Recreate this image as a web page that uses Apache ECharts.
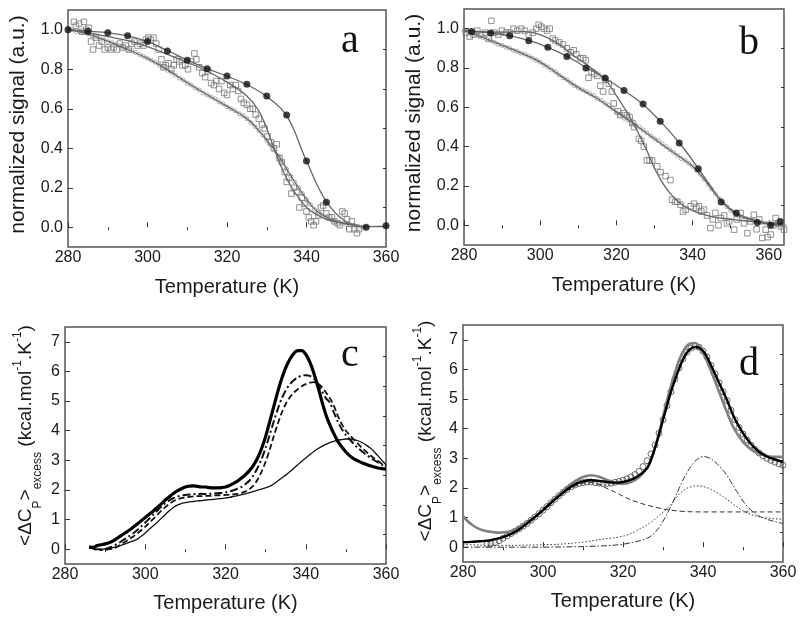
<!DOCTYPE html>
<html><head><meta charset="utf-8">
<script src="https://cdn.jsdelivr.net/npm/echarts@6/dist/echarts.min.js"></script>
<style>html,body{margin:0;padding:0;background:#fff}#c{width:800px;height:619px}</style>
</head><body><div id="c"></div>
<script>
// ---------- tick values ----------
const xMajor = [280, 300, 320, 340, 360];
const xMinor = [290, 310, 330, 350];
const yTopMajor = [0, 0.2, 0.4, 0.6, 0.8, 1.0];
const yTopMinor = [0.1, 0.3, 0.5, 0.7, 0.9];
const yBotMajor = [0, 1, 2, 3, 4, 5, 6, 7];
const yBotMinor = [0.5, 1.5, 2.5, 3.5, 4.5, 5.5, 6.5];

// ---------- panel a ----------
const aFilled = [[280,1.0],[285,0.993],[290,0.985],[295,0.969],[300,0.94],[305,0.893],[310,0.846],[315,0.803],[320,0.766],[325,0.724],[330,0.664],[335,0.568],[340,0.336],[345,0.127],[355,0.0],[360,0.008]];
const aFilledFit = [[280,1.0],[285,0.993],[290,0.985],[295,0.969],[300,0.94],[305,0.895],[310,0.847],[315,0.803],[320,0.765],[325,0.722],[330,0.662],[335,0.565],[340,0.335],[345,0.13],[350,0.028],[355,0.003],[360,0.005]];
const aSquares = [[281.5,1.04],[282,1.02],[282.8,1.03],[283.5,0.99],[284,1.04],[284.6,1.0],[285.2,1.01],[285.8,0.94],[286.3,0.9],[287,0.96],[287.8,0.92],[288.5,0.94],[289.2,0.9],[290,0.91],[290.8,0.9],[291.5,0.91],[292.3,0.9],[293,0.93],[293.8,0.91],[294.5,0.92],[295.3,0.9],[296,0.93],[296.7,0.94],[297.5,0.92],[298.2,0.93],[299,0.92],[299.6,0.95],[300.2,0.96],[300.8,0.95],[301.5,0.96],[302.2,0.93],[302.8,0.9],[303.5,0.85],[304,0.81],[304.6,0.82],[305.3,0.83],[306,0.8],[306.6,0.82],[307.3,0.85],[308,0.84],[308.8,0.82],[309.5,0.82],[310.2,0.8],[311,0.84],[311.8,0.88],[312.3,0.85],[313,0.81],[313.8,0.78],[314.5,0.76],[315.2,0.79],[316,0.73],[316.7,0.72],[317.3,0.74],[318,0.7],[318.6,0.74],[319.3,0.68],[320,0.67],[320.8,0.72],[321.5,0.7],[322.2,0.72],[322.8,0.69],[323.5,0.65],[324.2,0.63],[325,0.62],[325.8,0.6],[326.5,0.6],[327.2,0.57],[328,0.55],[328.8,0.52],[329.5,0.5],[330.2,0.46],[331,0.43],[331.8,0.4],[332.5,0.42],[333.2,0.35],[333.8,0.33],[334.5,0.28],[335,0.23],[335.6,0.25],[336.2,0.17],[336.8,0.2],[337.5,0.18],[338.2,0.1],[338.8,0.15],[339.5,0.12],[340,0.08],[340.6,0.05],[341.2,0.03],[341.8,0.01],[342.4,0.03],[343,0.06],[343.6,0.1],[344.2,0.11],[345,0.07],[345.7,0.05],[346.4,0.05],[347,0.03],[347.8,0.02],[348.4,0.01],[349,0.08],[349.6,0.07],[350.2,0.04],[350.8,-0.01],[351.4,0.03],[352,-0.01],[352.7,-0.03],[353.2,-0.01]];
const aSquaresFit = [[280,1.0],[285,0.985],[290,0.965],[295,0.945],[300,0.915],[305,0.875],[310,0.835],[315,0.79],[320,0.735],[325,0.665],[328,0.59],[330,0.5],[332,0.39],[334,0.29],[336,0.21],[338,0.15],[340,0.1],[342,0.07],[345,0.04],[348,0.025],[350,0.02],[353,0.01]];
const aOpen = [[280,1.01],[281,1.0],[282,0.99],[283,0.99],[284,0.985],[285,0.98],[286,0.97],[287,0.965],[288,0.955],[289,0.95],[290,0.94],[291,0.935],[292,0.925],[293,0.92],[294,0.91],[295,0.9],[296,0.895],[297,0.885],[298,0.875],[299,0.865],[300,0.855],[301,0.845],[302,0.835],[303,0.82],[304,0.81],[305,0.795],[306,0.785],[307,0.77],[308,0.755],[309,0.745],[310,0.73],[311,0.72],[312,0.705],[313,0.695],[314,0.68],[315,0.67],[316,0.66],[317,0.65],[318,0.635],[319,0.625],[320,0.61],[321,0.6],[322,0.59],[323,0.575],[324,0.565],[325,0.55],[326,0.53],[327,0.51],[328,0.49],[329,0.465],[330,0.44],[331,0.415],[332,0.39],[333,0.36],[334,0.33],[335,0.295],[336,0.26],[337,0.23],[338,0.2],[339,0.17],[340,0.14],[341,0.115],[342,0.09],[343,0.075],[344,0.06],[345,0.05],[346,0.04],[347,0.03],[348,0.025],[349,0.02],[350,0.015],[351,0.012],[352,0.01],[353,0.005],[354,0.0],[355,0.0]];
const aOpenFit = [[280,1.005],[285,0.978],[290,0.942],[295,0.9],[300,0.855],[305,0.797],[310,0.732],[315,0.671],[320,0.612],[325,0.55],[328,0.49],[330,0.44],[332,0.39],[334,0.33],[336,0.262],[338,0.2],[340,0.142],[342,0.093],[344,0.062],[347,0.032],[350,0.016],[355,0.0]];

// ---------- panel b ----------
const bFilled = [[282,0.986],[287,0.978],[292,0.964],[297,0.939],[302,0.905],[307,0.859],[312,0.8],[317,0.749],[322,0.685],[327,0.617],[331.5,0.529],[336.5,0.419],[341.5,0.288],[347.5,0.119],[351.5,0.063],[357,0.015],[360.5,0.0],[363,0.02]];
const bFilledFit = [[280,0.99],[282,0.987],[287,0.978],[292,0.963],[297,0.94],[302,0.905],[307,0.86],[312,0.803],[317,0.748],[322,0.686],[327,0.615],[331.5,0.53],[336.5,0.42],[341.5,0.29],[345,0.19],[347.5,0.125],[351.5,0.063],[357,0.02],[360.5,0.005],[364,0.0]];
const bSquares = [[280.5,0.98],[281.5,0.96],[282.5,0.97],[283.5,0.99],[284.5,0.97],[285.5,0.98],[286.5,0.95],[287.2,1.04],[288,0.98],[289,0.97],[290,0.99],[291,0.98],[292,0.98],[293,1.0],[294,0.99],[295,1.0],[296,0.99],[297,0.97],[298,0.98],[299,1.0],[299.6,1.02],[300.3,1.01],[301,1.0],[301.8,0.99],[302.5,1.0],[303.3,0.95],[304,0.94],[305,0.93],[306,0.92],[307,0.9],[308,0.88],[308.8,0.89],[309.5,0.87],[310.5,0.85],[311.3,0.85],[312,0.84],[312.7,0.75],[313.5,0.78],[314.2,0.77],[315,0.76],[315.8,0.71],[316.5,0.68],[317.2,0.74],[318,0.72],[318.8,0.68],[319.3,0.62],[320.4,0.58],[321,0.56],[322,0.57],[322.8,0.56],[323.5,0.55],[324.2,0.52],[324.6,0.5],[325.9,0.44],[326.5,0.43],[327.2,0.4],[328,0.33],[328.7,0.33],[329.4,0.33],[330.7,0.3],[331.6,0.27],[332.9,0.25],[334.2,0.23],[334.6,0.13],[335.4,0.12],[336,0.12],[336.8,0.105],[337.5,0.07],[338.2,0.08],[339.5,0.097],[340.4,0.11],[341,0.09],[341.7,0.097],[342.3,0.07],[343,0.08],[343.8,0.05],[344.7,-0.014],[345.3,0.03],[346,0.063],[346.8,0.0],[347.4,0.037],[348.3,0.05],[349,0.01],[349.6,0.02],[350.9,-0.022],[351.6,0.03],[352.6,0.063],[353.5,0.01],[354.4,-0.04],[355.2,0.02],[356.1,0.054],[356.8,-0.02],[357.5,0.03],[358.3,-0.064],[359.2,-0.022],[359.7,-0.06],[360.5,-0.047],[361.2,0.0],[361.8,0.037],[362.5,0.01],[363.2,-0.005],[364,-0.022]];
const bSquaresFit = [[280,0.99],[285,0.985],[290,0.982],[296,0.985],[300,0.97],[305,0.92],[309,0.86],[312,0.82],[315,0.775],[317,0.745],[320,0.66],[322,0.6],[324,0.535],[326,0.46],[328,0.38],[329,0.335],[330,0.29],[332,0.22],[334,0.165],[336,0.125],[338,0.095],[340,0.075],[343,0.055],[346,0.04],[350,0.03],[355,0.02],[360,0.01],[364,0.01]];
const bOpen = [[280,0.99],[281,0.985],[282,0.975],[283,0.97],[284,0.96],[285,0.955],[286,0.945],[287,0.94],[288,0.93],[289,0.92],[290,0.915],[291,0.905],[292,0.9],[293,0.89],[294,0.885],[295,0.875],[296,0.87],[297,0.86],[298,0.85],[299,0.84],[300,0.83],[301,0.815],[302,0.805],[303,0.79],[304,0.78],[305,0.765],[306,0.75],[307,0.74],[308,0.725],[309,0.71],[310,0.7],[311,0.69],[312,0.68],[313,0.67],[314,0.66],[315,0.645],[316,0.635],[317,0.62],[318,0.61],[319,0.595],[320,0.575],[321,0.56],[322,0.545],[323,0.535],[324,0.52],[325,0.51],[326,0.5],[327,0.485],[328,0.47],[329,0.455],[330,0.44],[331,0.43],[332,0.415],[333,0.4],[334,0.385],[335,0.37],[336,0.355],[337,0.34],[338,0.33],[339,0.315],[340,0.3],[341,0.28],[342,0.26],[343,0.235],[344,0.21],[345,0.185],[346,0.16],[347,0.135],[348,0.115],[349,0.095],[350,0.075],[351,0.062],[352,0.05],[353,0.042],[354,0.035],[355,0.03],[356,0.025],[357,0.02],[358,0.015],[359,0.012],[360,0.01],[361,0.008],[362,0.005],[363,0.003],[364,0.0]];
const bOpenFit = [[280,0.99],[285,0.955],[290,0.915],[295,0.876],[300,0.83],[305,0.765],[310,0.7],[315,0.645],[320,0.577],[325,0.51],[330,0.44],[335,0.37],[340,0.3],[343,0.235],[346,0.16],[349,0.095],[352,0.05],[356,0.025],[360,0.01],[364,0.0]];

// ---------- panel c ----------
const cThick = [[286,0.08],[287,0.06],[288,0.12],[289,0.15],[290,0.18],[291,0.22],[292,0.28],[293,0.37],[294,0.46],[295,0.55],[296,0.64],[297,0.74],[298,0.85],[299,0.96],[300,1.07],[301,1.18],[302,1.29],[303,1.41],[304,1.53],[305,1.66],[306,1.77],[307,1.88],[308,1.97],[309,2.04],[310,2.1],[311,2.13],[312,2.14],[313,2.12],[314,2.1],[315,2.1],[316,2.08],[317,2.07],[318,2.07],[319,2.08],[320,2.1],[321,2.15],[322,2.22],[323,2.3],[324,2.4],[325,2.52],[326,2.66],[327,2.84],[328,3.08],[329,3.4],[330,3.8],[331,4.3],[332,4.8],[333,5.3],[334,5.75],[335,6.12],[336,6.4],[337,6.6],[338,6.7],[339,6.7],[340,6.58],[341,6.32],[342,5.95],[343,5.5],[344,5.0],[345,4.55],[346,4.2],[347,3.9],[348,3.64],[349,3.45],[350,3.28],[351,3.15],[352,3.05],[353,2.98],[354,2.92],[355,2.87],[356,2.82],[357,2.78],[358,2.74],[359,2.72],[360,2.7]];
const cDashDot = [[286,0.06],[287,0.02],[288,-0.02],[289,-0.02],[290,0.0],[291,0.05],[292,0.1],[293,0.18],[294,0.26],[295,0.35],[296,0.44],[297,0.54],[298,0.65],[299,0.77],[300,0.9],[301,1.03],[302,1.16],[303,1.3],[304,1.43],[305,1.55],[306,1.65],[307,1.72],[308,1.77],[309,1.81],[310,1.83],[311,1.85],[312,1.86],[313,1.85],[314,1.87],[315,1.86],[316,1.87],[317,1.88],[318,1.89],[319,1.9],[320,1.92],[321,1.95],[322,1.99],[323,2.04],[324,2.1],[325,2.2],[326,2.32],[327,2.5],[328,2.75],[329,3.05],[330,3.42],[331,3.85],[332,4.3],[333,4.72],[334,5.08],[335,5.36],[336,5.56],[337,5.7],[338,5.8],[339,5.86],[340,5.87],[341,5.85],[342,5.76],[343,5.58],[344,5.34],[345,5.1],[346,4.95],[347,4.62],[348,4.3],[349,4.05],[350,3.85],[351,3.7],[352,3.55],[353,3.42],[354,3.3],[355,3.2],[356,3.1],[357,3.01],[358,2.93],[359,2.85],[360,2.78]];
const cDashed = [[288,0.0],[289,-0.02],[290,-0.02],[291,0.0],[292,0.02],[293,0.08],[294,0.17],[295,0.25],[296,0.34],[297,0.43],[298,0.53],[299,0.64],[300,0.76],[301,0.89],[302,1.02],[303,1.16],[304,1.3],[305,1.42],[306,1.53],[307,1.62],[308,1.68],[309,1.72],[310,1.75],[311,1.77],[312,1.78],[313,1.79],[314,1.79],[315,1.8],[316,1.8],[317,1.81],[318,1.82],[319,1.82],[320,1.83],[321,1.84],[322,1.85],[323,1.87],[324,1.9],[325,1.95],[326,2.03],[327,2.15],[328,2.35],[329,2.62],[330,2.95],[331,3.35],[332,3.8],[333,4.22],[334,4.6],[335,4.9],[336,5.12],[337,5.28],[338,5.4],[339,5.5],[340,5.57],[341,5.62],[342,5.64],[343,5.6],[344,5.48],[345,5.3],[346,5.1],[347,4.85],[348,4.5],[349,4.22],[350,4.0],[351,3.85],[352,3.7],[353,3.56],[354,3.42],[355,3.3],[356,3.18],[357,3.07],[358,2.98],[359,2.88],[360,2.8]];
const cThin = [[287,0.02],[288,0.0],[289,0.0],[290,0.01],[291,0.03],[292,0.05],[293,0.09],[294,0.13],[295,0.18],[296,0.23],[297,0.28],[298,0.34],[299,0.44],[300,0.55],[301,0.67],[302,0.79],[303,0.91],[304,1.04],[305,1.17],[306,1.3],[307,1.41],[308,1.49],[309,1.54],[310,1.57],[311,1.6],[312,1.61],[313,1.63],[314,1.64],[315,1.66],[316,1.67],[317,1.68],[318,1.7],[319,1.71],[320,1.73],[321,1.75],[322,1.78],[323,1.81],[324,1.84],[325,1.87],[326,1.91],[327,1.95],[328,1.99],[329,2.03],[330,2.07],[331,2.12],[332,2.2],[333,2.3],[334,2.4],[335,2.5],[336,2.61],[337,2.73],[338,2.85],[339,2.97],[340,3.08],[341,3.19],[342,3.3],[343,3.39],[344,3.47],[345,3.54],[346,3.6],[347,3.64],[348,3.68],[349,3.7],[350,3.72],[351,3.72],[352,3.7],[353,3.66],[354,3.6],[355,3.52],[356,3.42],[357,3.3],[358,3.15],[359,3.0],[360,2.85]];

// ---------- panel d ----------
const dData = [[286,0.1],[287,0.12],[288,0.16],[289,0.22],[290,0.3],[291,0.38],[292,0.46],[293,0.54],[294,0.62],[295,0.71],[296,0.8],[297,0.91],[298,1.02],[299,1.13],[300,1.25],[301,1.37],[302,1.5],[303,1.62],[304,1.74],[305,1.85],[306,1.95],[307,2.04],[308,2.1],[309,2.15],[310,2.18],[311,2.2],[312,2.2],[313,2.18],[314,2.16],[315,2.15],[316,2.15],[317,2.16],[318,2.19],[319,2.22],[320,2.26],[321,2.31],[322,2.37],[323,2.45],[324,2.56],[325,2.72],[326,2.92],[327,3.15],[328,3.45],[329,3.85],[330,4.3],[331,4.78],[332,5.25],[333,5.68],[334,6.05],[335,6.36],[336,6.58],[337,6.72],[338,6.78],[339,6.75],[340,6.62],[341,6.42],[342,6.14],[343,5.85],[344,5.55],[345,5.25],[346,4.95],[347,4.62],[348,4.3],[349,4.04],[350,3.82],[351,3.62],[352,3.45],[353,3.3],[354,3.18],[355,3.08],[356,3.0],[357,2.93],[358,2.87],[359,2.81],[360,2.77]];
const dFit = [[280,0.17],[282,0.18],[284,0.2],[286,0.22],[288,0.27],[290,0.34],[292,0.45],[294,0.6],[296,0.8],[298,1.02],[300,1.25],[302,1.5],[304,1.73],[306,1.95],[308,2.12],[310,2.22],[312,2.26],[314,2.24],[316,2.2],[318,2.18],[320,2.2],[322,2.28],[324,2.42],[326,2.66],[327,2.95],[328,3.35],[329,3.8],[330,4.3],[331,4.78],[332,5.25],[333,5.65],[334,6.02],[335,6.34],[336,6.57],[337,6.71],[338,6.76],[339,6.73],[340,6.63],[341,6.42],[342,6.14],[343,5.85],[344,5.55],[345,5.26],[346,4.96],[347,4.63],[348,4.32],[350,3.85],[352,3.48],[354,3.22],[356,3.06],[358,2.96],[360,2.88]];
const dGray = [[280,1.05],[281,0.9],[282,0.78],[283,0.69],[284,0.62],[285,0.57],[286,0.54],[287,0.52],[288,0.5],[289,0.49],[290,0.5],[291,0.51],[292,0.55],[293,0.6],[294,0.66],[295,0.74],[296,0.83],[298,1.03],[300,1.25],[302,1.5],[304,1.76],[306,2.02],[308,2.23],[310,2.37],[312,2.43],[314,2.38],[316,2.27],[318,2.17],[320,2.14],[322,2.2],[324,2.36],[326,2.68],[327,2.95],[328,3.35],[329,3.85],[330,4.4],[331,4.95],[332,5.45],[333,5.9],[334,6.3],[335,6.6],[336,6.8],[337,6.88],[338,6.89],[339,6.8],[340,6.56],[341,6.28],[342,5.95],[343,5.6],[344,5.25],[345,4.9],[346,4.55],[347,4.22],[348,3.95],[350,3.55],[352,3.3],[354,3.16],[356,3.08],[358,3.05],[360,3.05]];
const dComp1 = [[280,0.15],[282,0.16],[284,0.18],[286,0.2],[288,0.25],[290,0.32],[292,0.43],[294,0.58],[296,0.78],[298,1.0],[300,1.23],[302,1.48],[304,1.7],[306,1.9],[308,2.06],[310,2.16],[312,2.19],[314,2.12],[316,1.98],[318,1.86],[320,1.72],[322,1.6],[324,1.5],[326,1.42],[328,1.35],[330,1.29],[332,1.25],[334,1.22],[336,1.2],[340,1.19],[345,1.19],[350,1.19],[355,1.19],[360,1.19]];
const dComp2 = [[280,0.09],[284,0.07],[288,0.06],[292,0.06],[296,0.07],[300,0.08],[304,0.1],[307,0.13],[310,0.17],[312,0.21],[314,0.25],[316,0.29],[318,0.32],[320,0.37],[322,0.46],[324,0.6],[326,0.75],[328,0.95],[330,1.18],[331,1.3],[332,1.45],[333,1.62],[334,1.78],[335,1.9],[336,1.99],[337,2.04],[338,2.07],[339,2.07],[340,2.05],[341,2.01],[342,1.95],[343,1.88],[344,1.8],[345,1.71],[346,1.61],[347,1.51],[348,1.41],[349,1.31],[350,1.23],[351,1.16],[352,1.1],[353,1.06],[354,1.03],[355,1.0],[356,0.99],[357,0.97],[358,0.96],[359,0.95],[360,0.94]];
const dComp3 = [[280,0.0],[290,0.0],[300,0.0],[305,0.01],[310,0.02],[314,0.04],[316,0.05],[318,0.07],[320,0.1],[322,0.15],[324,0.21],[326,0.3],[327,0.38],[328,0.5],[329,0.66],[330,0.88],[331,1.12],[332,1.38],[333,1.68],[334,1.98],[335,2.27],[336,2.52],[337,2.73],[338,2.9],[339,3.01],[340,3.06],[341,3.04],[342,2.98],[343,2.88],[344,2.75],[345,2.6],[346,2.42],[347,2.2],[348,1.98],[349,1.76],[350,1.56],[351,1.39],[352,1.25],[353,1.14],[354,1.05],[355,0.99],[356,0.94],[357,0.9],[358,0.86],[359,0.83],[360,0.8]];

// ---------- layout ----------
const FONT = 'Liberation Sans, Arial, sans-serif';
const TXT = '#1a1a1a';
const grids = [
  {left: 68, top: 10, width: 318, height: 237},
  {left: 464, top: 9, width: 320, height: 236},
  {left: 65, top: 327, width: 321, height: 237},
  {left: 463, top: 325, width: 320, height: 237}
];
const xMax = [360, 364, 360, 360];
const cpName = '{m|<ΔC}{sub|P}{m|>}{sub|excess}{m| (kcal.mol}{sup|-1}{m|.K}{sup|-1}{m|)}';
const cpRich = {
  m: {fontSize: 19, fontFamily: FONT, color: TXT, lineHeight: 36},
  sub: {fontSize: 12, fontFamily: FONT, color: TXT, verticalAlign: 'bottom'},
  sup: {fontSize: 12, fontFamily: FONT, color: TXT, verticalAlign: 'top', height: 20}
};

const xAxes = [], yAxes = [];
grids.forEach((g, i) => {
  const top = i < 2;
  xAxes.push({
    type: 'value', gridIndex: i, min: 280, max: xMax[i],
    axisLine: {show: false}, splitLine: {show: false},
    axisTick: {inside: true, length: 5, customValues: xMajor, lineStyle: {color: '#333', width: 1}},
    axisLabel: {customValues: xMajor, fontSize: 16, fontFamily: FONT, color: TXT, margin: 3},
    name: 'Temperature (K)', nameLocation: 'middle', nameGap: top ? 30 : 29,
    nameTextStyle: {fontSize: 20, fontFamily: FONT, color: TXT}
  });
  xAxes.push({
    type: 'value', gridIndex: i, min: 280, max: xMax[i],
    axisLine: {show: false}, splitLine: {show: false},
    axisTick: {inside: true, length: 3, customValues: xMinor, lineStyle: {color: '#333', width: 1}},
    axisLabel: {show: false}
  });
  const yMaj = top ? yTopMajor : yBotMajor;
  const yMin = top ? yTopMinor : yBotMinor;
  yAxes.push({
    type: 'value', gridIndex: i, min: top ? -0.1 : -0.5, max: top ? 1.1 : 7.5,
    axisLine: {show: false}, splitLine: {show: false},
    axisTick: {inside: true, length: 5, customValues: yMaj, lineStyle: {color: '#333', width: 1}},
    axisLabel: {customValues: yMaj, fontSize: 16, fontFamily: FONT, color: TXT, margin: 5,
      formatter: top ? (v => Number(v).toFixed(1)) : (v => String(v))},
    name: top ? 'normalized signal (a.u.)' : cpName,
    nameLocation: 'middle',
    nameGap: top ? 39 : (i === 2 ? 21 : 19),
    nameTextStyle: top ? {fontSize: 21, fontFamily: FONT, color: TXT, padding: [0, 0, 0, 8]}
                       : {rich: cpRich, padding: [0, 0, 0, i === 2 ? 20 : 25]}
  });
  yAxes.push({
    type: 'value', gridIndex: i, min: top ? -0.1 : -0.5, max: top ? 1.1 : 7.5,
    axisLine: {show: false}, splitLine: {show: false},
    axisTick: {inside: true, length: 3, customValues: yMin, lineStyle: {color: '#333', width: 1}},
    axisLabel: {show: false}
  });
});

const G = i => ({xAxisIndex: 2 * i, yAxisIndex: 2 * i});
const sq = (data, i) => Object.assign({type: 'scatter', data, symbol: 'rect', symbolSize: 5.5,
  itemStyle: {color: 'rgba(255,255,255,0)', borderColor: '#777', borderWidth: 1}}, G(i));
const oc = (data, i) => Object.assign({type: 'scatter', data, symbol: 'circle', symbolSize: 4,
  itemStyle: {color: 'rgba(255,255,255,0)', borderColor: '#808080', borderWidth: 0.8}}, G(i));
const fc = (data, i) => Object.assign({type: 'scatter', data, symbol: 'circle', symbolSize: 7,
  itemStyle: {color: '#111'}, z: 5}, G(i));
const ln = (data, i, st, smooth) => Object.assign({type: 'line', data, showSymbol: false,
  smooth: smooth === undefined ? 0.4 : smooth, lineStyle: st, z: 3}, G(i));

const fitStyle = {color: '#666', width: 1.3};
const series = [
  sq(aSquares, 0), oc(aOpen, 0),
  ln(aSquaresFit, 0, fitStyle), ln(aOpenFit, 0, fitStyle), ln(aFilledFit, 0, fitStyle),
  fc(aFilled, 0),
  sq(bSquares, 1), oc(bOpen, 1),
  ln(bSquaresFit, 1, fitStyle), ln(bOpenFit, 1, fitStyle), ln(bFilledFit, 1, fitStyle),
  fc(bFilled, 1),
  ln(cThin, 2, {color: '#111', width: 1.3}, 0.3),
  ln(cDashed, 2, {color: '#111', width: 1.8, type: [6, 3]}, 0.3),
  ln(cDashDot, 2, {color: '#111', width: 2, type: [8, 3, 2, 3]}, 0.3),
  ln(cThick, 2, {color: '#000', width: 3.2}, 0.3),
  Object.assign({type: 'scatter', data: dData, symbol: 'circle', symbolSize: 6,
    itemStyle: {color: 'rgba(255,255,255,0)', borderColor: '#333', borderWidth: 0.9}}, G(3)),
  ln(dComp1, 3, {color: '#333', width: 1, type: [5, 3]}, 0.3),
  ln(dComp2, 3, {color: '#333', width: 1, type: [1.5, 2]}, 0.3),
  ln(dComp3, 3, {color: '#333', width: 1, type: [6, 2, 1.5, 2]}, 0.3),
  ln(dGray, 3, {color: '#808080', width: 2.6}, 0.3),
  ln(dFit, 3, {color: '#000', width: 2.4}, 0.3)
];

const letter = (t, x, y) => ({type: 'text', x, y, z: 100,
  style: {text: t, fontSize: 40, fontFamily: 'Liberation Serif, Times New Roman, serif',
    fill: '#111', align: 'center', verticalAlign: 'middle'}});

const chart = echarts.init(document.getElementById('c'), null, {renderer: 'canvas'});
chart.setOption({
  animation: false,
  backgroundColor: '#fff',
  grid: grids.map(g => Object.assign({show: true, borderColor: '#555', borderWidth: 1.5,
    backgroundColor: 'transparent', outerBoundsMode: 'none', containLabel: false}, g)),
  xAxis: xAxes,
  yAxis: yAxes,
  series,
  graphic: [letter('a', 350, 41.5), letter('b', 749, 43), letter('c', 350, 355), letter('d', 749, 364)]
});
</script></body></html>
